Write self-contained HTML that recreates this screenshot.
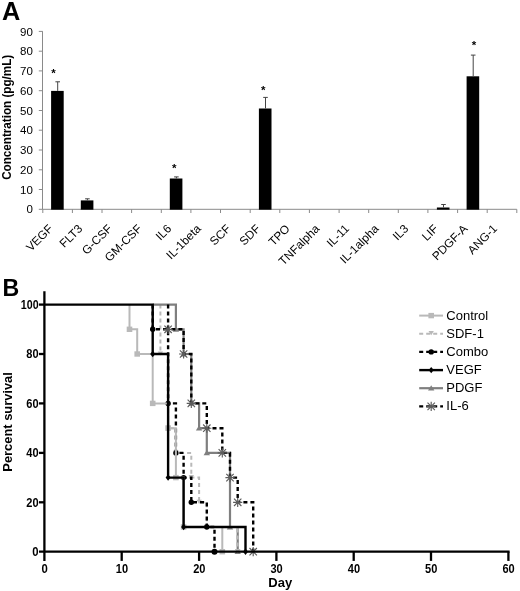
<!DOCTYPE html>
<html lang="en"><head><meta charset="utf-8"><title>Figure</title>
<style>html,body{margin:0;padding:0;background:#fff;}svg{display:block;will-change:transform;transform:translateZ(0);}text{font-family:"Liberation Sans", Arial, Helvetica, sans-serif;fill:#000;}</style></head><body>
<svg width="520" height="591" viewBox="0 0 520 591">
<rect width="520" height="591" fill="#fff"/>
<g id="panelA">
<text x="2.0" y="20.4" font-size="25.3" font-weight="bold">A</text>
<g stroke="#8a8a8a" stroke-width="1" fill="none">
<line x1="42.5" y1="31.4" x2="42.5" y2="209.3"/>
<line x1="38.8" y1="209.3" x2="42.8" y2="209.3"/>
<line x1="38.8" y1="189.5" x2="42.8" y2="189.5"/>
<line x1="38.8" y1="169.8" x2="42.8" y2="169.8"/>
<line x1="38.8" y1="150.0" x2="42.8" y2="150.0"/>
<line x1="38.8" y1="130.2" x2="42.8" y2="130.2"/>
<line x1="38.8" y1="110.5" x2="42.8" y2="110.5"/>
<line x1="38.8" y1="90.7" x2="42.8" y2="90.7"/>
<line x1="38.8" y1="70.9" x2="42.8" y2="70.9"/>
<line x1="38.8" y1="51.2" x2="42.8" y2="51.2"/>
<line x1="38.8" y1="31.4" x2="42.8" y2="31.4"/>
<line x1="42.8" y1="209.3" x2="516.8" y2="209.3"/>
<line x1="42.8" y1="209.3" x2="42.8" y2="213.0"/>
<line x1="72.4" y1="209.3" x2="72.4" y2="213.0"/>
<line x1="102.0" y1="209.3" x2="102.0" y2="213.0"/>
<line x1="131.6" y1="209.3" x2="131.6" y2="213.0"/>
<line x1="161.3" y1="209.3" x2="161.3" y2="213.0"/>
<line x1="190.9" y1="209.3" x2="190.9" y2="213.0"/>
<line x1="220.5" y1="209.3" x2="220.5" y2="213.0"/>
<line x1="250.2" y1="209.3" x2="250.2" y2="213.0"/>
<line x1="279.8" y1="209.3" x2="279.8" y2="213.0"/>
<line x1="309.4" y1="209.3" x2="309.4" y2="213.0"/>
<line x1="339.1" y1="209.3" x2="339.1" y2="213.0"/>
<line x1="368.7" y1="209.3" x2="368.7" y2="213.0"/>
<line x1="398.3" y1="209.3" x2="398.3" y2="213.0"/>
<line x1="427.9" y1="209.3" x2="427.9" y2="213.0"/>
<line x1="457.6" y1="209.3" x2="457.6" y2="213.0"/>
<line x1="487.2" y1="209.3" x2="487.2" y2="213.0"/>
<line x1="516.8" y1="209.3" x2="516.8" y2="213.0"/>
</g>
<text x="32.9" y="213.4" font-size="11.5" text-anchor="end">0</text>
<text x="32.9" y="193.6" font-size="11.5" text-anchor="end">10</text>
<text x="32.9" y="173.9" font-size="11.5" text-anchor="end">20</text>
<text x="32.9" y="154.1" font-size="11.5" text-anchor="end">30</text>
<text x="32.9" y="134.3" font-size="11.5" text-anchor="end">40</text>
<text x="32.9" y="114.6" font-size="11.5" text-anchor="end">50</text>
<text x="32.9" y="94.8" font-size="11.5" text-anchor="end">60</text>
<text x="32.9" y="75.0" font-size="11.5" text-anchor="end">70</text>
<text x="32.9" y="55.3" font-size="11.5" text-anchor="end">80</text>
<text x="32.9" y="35.5" font-size="11.5" text-anchor="end">90</text>
<text transform="translate(11.4,117.3) rotate(-90)" font-size="12" font-weight="bold" text-anchor="middle" textLength="125" lengthAdjust="spacingAndGlyphs">Concentration (pg/mL)</text>
<rect x="51.1" y="90.9" width="12.6" height="118.8" fill="#000"/>
<g stroke="#444" stroke-width="1" fill="none"><line x1="57.7" y1="90.9" x2="57.7" y2="81.8"/><line x1="55.4" y1="81.8" x2="60.0" y2="81.8"/></g>
<rect x="80.8" y="200.4" width="12.6" height="9.3" fill="#000"/>
<g stroke="#444" stroke-width="1" fill="none"><line x1="87.4" y1="200.4" x2="87.4" y2="198.8"/><line x1="85.1" y1="198.8" x2="89.7" y2="198.8"/></g>
<rect x="169.8" y="178.5" width="12.6" height="31.2" fill="#000"/>
<g stroke="#444" stroke-width="1" fill="none"><line x1="176.4" y1="178.5" x2="176.4" y2="176.9"/><line x1="174.1" y1="176.9" x2="178.7" y2="176.9"/></g>
<rect x="258.9" y="108.5" width="12.6" height="101.2" fill="#000"/>
<g stroke="#444" stroke-width="1" fill="none"><line x1="265.5" y1="108.5" x2="265.5" y2="97.4"/><line x1="263.2" y1="97.4" x2="267.8" y2="97.4"/></g>
<rect x="436.9" y="207.5" width="12.6" height="2.2" fill="#000"/>
<g stroke="#444" stroke-width="1" fill="none"><line x1="443.5" y1="207.5" x2="443.5" y2="204.5"/><line x1="441.2" y1="204.5" x2="445.8" y2="204.5"/></g>
<rect x="466.6" y="76.3" width="12.6" height="133.4" fill="#000"/>
<g stroke="#444" stroke-width="1" fill="none"><line x1="473.2" y1="76.3" x2="473.2" y2="55.1"/><line x1="470.9" y1="55.1" x2="475.5" y2="55.1"/></g>
<text x="53.4" y="77.0" font-size="11.5" font-weight="bold" text-anchor="middle">*</text>
<text x="174.3" y="172.0" font-size="11.5" font-weight="bold" text-anchor="middle">*</text>
<text x="263.2" y="94.4" font-size="11.5" font-weight="bold" text-anchor="middle">*</text>
<text x="473.9" y="48.8" font-size="11.5" font-weight="bold" text-anchor="middle">*</text>
<text transform="translate(53.6,229.4) rotate(-45)" font-size="11.8" text-anchor="end">VEGF</text>
<text transform="translate(83.2,229.4) rotate(-45)" font-size="11.8" text-anchor="end">FLT3</text>
<text transform="translate(112.8,229.4) rotate(-45)" font-size="11.8" text-anchor="end">G-CSF</text>
<text transform="translate(142.5,229.4) rotate(-45)" font-size="11.8" text-anchor="end">GM-CSF</text>
<text transform="translate(172.1,229.4) rotate(-45)" font-size="11.8" text-anchor="end">IL6</text>
<text transform="translate(201.7,229.4) rotate(-45)" font-size="11.8" text-anchor="end">IL-1beta</text>
<text transform="translate(231.3,229.4) rotate(-45)" font-size="11.8" text-anchor="end">SCF</text>
<text transform="translate(261.0,229.4) rotate(-45)" font-size="11.8" text-anchor="end">SDF</text>
<text transform="translate(290.6,229.4) rotate(-45)" font-size="11.8" text-anchor="end">TPO</text>
<text transform="translate(320.2,229.4) rotate(-45)" font-size="11.8" text-anchor="end">TNFalpha</text>
<text transform="translate(349.9,229.4) rotate(-45)" font-size="11.8" text-anchor="end">IL-11</text>
<text transform="translate(379.5,229.4) rotate(-45)" font-size="11.8" text-anchor="end">IL-1alpha</text>
<text transform="translate(409.1,229.4) rotate(-45)" font-size="11.8" text-anchor="end">IL3</text>
<text transform="translate(438.8,229.4) rotate(-45)" font-size="11.8" text-anchor="end">LIF</text>
<text transform="translate(468.4,229.4) rotate(-45)" font-size="11.8" text-anchor="end">PDGF-A</text>
<text transform="translate(498.0,229.4) rotate(-45)" font-size="11.8" text-anchor="end">ANG-1</text>
</g>
<g id="panelB">
<text x="2.6" y="295.9" font-size="23.2" font-weight="bold">B</text>
<path d="M160.4 304.6V354.0H168.1V428.2H175.9V452.9H191.3V477.6H199.1V502.3H206.8V527.0H237.7V551.7" fill="none" stroke="#b9b9b9" stroke-width="2.0" stroke-dasharray="4 3"/>
<path d="M157.7 351.4h5.4l-2.7 4.2z" fill="#b9b9b9"/>
<path d="M165.4 425.6h5.4l-2.7 4.2z" fill="#b9b9b9"/>
<path d="M173.2 450.3h5.4l-2.7 4.2z" fill="#b9b9b9"/>
<path d="M188.6 475.0h5.4l-2.7 4.2z" fill="#b9b9b9"/>
<path d="M196.4 499.7h5.4l-2.7 4.2z" fill="#b9b9b9"/>
<path d="M204.1 524.4h5.4l-2.7 4.2z" fill="#b9b9b9"/>
<path d="M235.0 549.1h5.4l-2.7 4.2z" fill="#b9b9b9"/>
<path d="M152.7 304.6V329.3H168.1V403.4H175.9V452.9H183.6V477.6H191.3V502.3H206.8V527.0H214.5V551.7" fill="none" stroke="#000" stroke-width="2.4" stroke-dasharray="4 3"/>
<circle cx="152.7" cy="329.3" r="2.7" fill="#000"/>
<circle cx="168.1" cy="403.4" r="2.7" fill="#000"/>
<circle cx="175.9" cy="452.9" r="2.7" fill="#000"/>
<circle cx="183.6" cy="477.6" r="2.7" fill="#000"/>
<circle cx="191.3" cy="502.3" r="2.7" fill="#000"/>
<circle cx="206.8" cy="527.0" r="2.7" fill="#000"/>
<circle cx="214.5" cy="551.7" r="3.0" fill="#000"/>
<path d="M129.5 304.6V329.3H137.2V354.0H152.7V403.4H168.1V428.2H175.9V477.6H183.6V527.0H222.3V551.7" fill="none" stroke="#b9b9b9" stroke-width="2.0"/>
<rect x="126.7" y="326.6" width="5.6" height="5.4" fill="#b9b9b9"/>
<rect x="134.4" y="351.3" width="5.6" height="5.4" fill="#b9b9b9"/>
<rect x="149.9" y="400.7" width="5.6" height="5.4" fill="#b9b9b9"/>
<rect x="165.3" y="425.5" width="5.6" height="5.4" fill="#b9b9b9"/>
<rect x="173.1" y="474.9" width="5.6" height="5.4" fill="#b9b9b9"/>
<rect x="180.8" y="524.3" width="5.6" height="5.4" fill="#b9b9b9"/>
<rect x="219.5" y="549.0" width="5.6" height="5.4" fill="#b9b9b9"/>
<path d="M152.7 304.6H175.9V329.3H183.6V354.0H191.3V403.4H199.1V428.2H206.8V452.9H230.0V527.0H237.7V551.7" fill="none" stroke="#7f7f7f" stroke-width="2.2"/>
<path d="M175.9 326.3l3.2 5.4h-6.4z" fill="#7f7f7f"/>
<path d="M183.6 351.0l3.2 5.4h-6.4z" fill="#7f7f7f"/>
<path d="M191.3 400.4l3.2 5.4h-6.4z" fill="#7f7f7f"/>
<path d="M199.1 425.2l3.2 5.4h-6.4z" fill="#7f7f7f"/>
<path d="M206.8 449.9l3.2 5.4h-6.4z" fill="#7f7f7f"/>
<path d="M230.0 524.0l3.2 5.4h-6.4z" fill="#7f7f7f"/>
<path d="M237.7 548.7l3.2 5.4h-6.4z" fill="#7f7f7f"/>
<path d="M168.1 304.6V329.3H183.6V354.0H191.3V403.4H206.8V428.2H222.3V452.9H230.0V477.6H237.7V502.3H253.2V551.7" fill="none" stroke="#000" stroke-width="2.4" stroke-dasharray="4 3"/>
<path d="M164.4 325.6l7.4 7.4M164.4 333.0l7.4 -7.4M163.5 329.3h9.2M168.1 324.7v9.2" stroke="#5c5c5c" stroke-width="1.15" fill="none"/>
<path d="M179.9 350.3l7.4 7.4M179.9 357.7l7.4 -7.4M179.0 354.0h9.2M183.6 349.4v9.2" stroke="#5c5c5c" stroke-width="1.15" fill="none"/>
<path d="M187.6 399.7l7.4 7.4M187.6 407.1l7.4 -7.4M186.7 403.4h9.2M191.3 398.8v9.2" stroke="#5c5c5c" stroke-width="1.15" fill="none"/>
<path d="M203.1 424.5l7.4 7.4M203.1 431.9l7.4 -7.4M202.2 428.2h9.2M206.8 423.6v9.2" stroke="#5c5c5c" stroke-width="1.15" fill="none"/>
<path d="M218.6 449.2l7.4 7.4M218.6 456.6l7.4 -7.4M217.7 452.9h9.2M222.3 448.3v9.2" stroke="#5c5c5c" stroke-width="1.15" fill="none"/>
<path d="M226.3 473.9l7.4 7.4M226.3 481.3l7.4 -7.4M225.4 477.6h9.2M230.0 473.0v9.2" stroke="#5c5c5c" stroke-width="1.15" fill="none"/>
<path d="M234.0 498.6l7.4 7.4M234.0 506.0l7.4 -7.4M233.1 502.3h9.2M237.7 497.7v9.2" stroke="#5c5c5c" stroke-width="1.15" fill="none"/>
<path d="M249.5 548.0l7.4 7.4M249.5 555.4l7.4 -7.4M248.6 551.7h9.2M253.2 547.1v9.2" stroke="#5c5c5c" stroke-width="1.15" fill="none"/>
<path d="M44.4 304.6H152.7V354.0H168.1V477.6H183.6V527.0H245.5V551.7" fill="none" stroke="#000" stroke-width="2.4"/>
<path d="M152.7 350.8l2.5 3.2l-2.5 3.2l-2.5 -3.2z" fill="#000"/>
<path d="M168.1 474.4l2.5 3.2l-2.5 3.2l-2.5 -3.2z" fill="#000"/>
<path d="M183.6 523.8l2.5 3.2l-2.5 3.2l-2.5 -3.2z" fill="#000"/>
<path d="M245.5 548.5l2.5 3.2l-2.5 3.2l-2.5 -3.2z" fill="#000"/>
<path d="M237.7 528.5V551.7" fill="none" stroke="#b9b9b9" stroke-width="2.0" stroke-dasharray="4 3"/>
<path d="M235.0 549.1h5.4l-2.7 4.2z" fill="#b9b9b9"/>
<g stroke="#000" stroke-width="2.3" fill="none">
<line x1="44.4" y1="291.2" x2="44.4" y2="560.9"/>
<line x1="39.0" y1="551.7" x2="509.6" y2="551.7"/>
<line x1="39.0" y1="502.3" x2="44.4" y2="502.3"/>
<line x1="39.0" y1="452.9" x2="44.4" y2="452.9"/>
<line x1="39.0" y1="403.4" x2="44.4" y2="403.4"/>
<line x1="39.0" y1="354.0" x2="44.4" y2="354.0"/>
<line x1="39.0" y1="304.6" x2="44.4" y2="304.6"/>
<line x1="121.7" y1="551.7" x2="121.7" y2="560.9"/>
<line x1="199.1" y1="551.7" x2="199.1" y2="560.9"/>
<line x1="276.4" y1="551.7" x2="276.4" y2="560.9"/>
<line x1="353.7" y1="551.7" x2="353.7" y2="560.9"/>
<line x1="431.0" y1="551.7" x2="431.0" y2="560.9"/>
<line x1="508.4" y1="551.7" x2="508.4" y2="560.9"/>
</g>
<text x="38.6" y="556.1" font-size="12.3" font-weight="bold" text-anchor="end" textLength="6.3" lengthAdjust="spacingAndGlyphs">0</text>
<text x="38.6" y="506.7" font-size="12.3" font-weight="bold" text-anchor="end" textLength="12.3" lengthAdjust="spacingAndGlyphs">20</text>
<text x="38.6" y="457.3" font-size="12.3" font-weight="bold" text-anchor="end" textLength="12.3" lengthAdjust="spacingAndGlyphs">40</text>
<text x="38.6" y="407.8" font-size="12.3" font-weight="bold" text-anchor="end" textLength="12.3" lengthAdjust="spacingAndGlyphs">60</text>
<text x="38.6" y="358.4" font-size="12.3" font-weight="bold" text-anchor="end" textLength="12.3" lengthAdjust="spacingAndGlyphs">80</text>
<text x="38.6" y="309.0" font-size="12.3" font-weight="bold" text-anchor="end" textLength="17.8" lengthAdjust="spacingAndGlyphs">100</text>
<text x="44.6" y="573.4" font-size="12.3" font-weight="bold" text-anchor="middle" textLength="6.3" lengthAdjust="spacingAndGlyphs">0</text>
<text x="121.9" y="573.4" font-size="12.3" font-weight="bold" text-anchor="middle" textLength="12.3" lengthAdjust="spacingAndGlyphs">10</text>
<text x="199.3" y="573.4" font-size="12.3" font-weight="bold" text-anchor="middle" textLength="12.3" lengthAdjust="spacingAndGlyphs">20</text>
<text x="276.6" y="573.4" font-size="12.3" font-weight="bold" text-anchor="middle" textLength="12.3" lengthAdjust="spacingAndGlyphs">30</text>
<text x="353.9" y="573.4" font-size="12.3" font-weight="bold" text-anchor="middle" textLength="12.3" lengthAdjust="spacingAndGlyphs">40</text>
<text x="431.2" y="573.4" font-size="12.3" font-weight="bold" text-anchor="middle" textLength="12.3" lengthAdjust="spacingAndGlyphs">50</text>
<text x="508.6" y="573.4" font-size="12.3" font-weight="bold" text-anchor="middle" textLength="12.3" lengthAdjust="spacingAndGlyphs">60</text>
<text x="280.2" y="586.9" font-size="13" font-weight="bold" text-anchor="middle">Day</text>
<text transform="translate(11.6,421.9) rotate(-90)" font-size="13.6" font-weight="bold" text-anchor="middle" textLength="99.5" lengthAdjust="spacingAndGlyphs">Percent survival</text>
<line x1="419.2" y1="315.6" x2="443" y2="315.6" stroke="#b9b9b9" stroke-width="2.0"/>
<rect x="428.4" y="312.9" width="5.6" height="5.4" fill="#b9b9b9"/>
<text x="446.3" y="319.5" font-size="13">Control</text>
<line x1="419.2" y1="333.8" x2="443" y2="333.8" stroke="#b9b9b9" stroke-width="2.0" stroke-dasharray="4 3"/>
<path d="M428.5 331.1h5.4l-2.7 4.2z" fill="#b9b9b9"/>
<text x="446.3" y="337.6" font-size="13">SDF-1</text>
<line x1="419.2" y1="351.9" x2="443" y2="351.9" stroke="#000" stroke-width="2.4" stroke-dasharray="4 3"/>
<circle cx="431.2" cy="351.9" r="2.7" fill="#000"/>
<text x="446.3" y="355.8" font-size="13">Combo</text>
<line x1="419.2" y1="370.1" x2="443" y2="370.1" stroke="#000" stroke-width="2.4"/>
<path d="M431.2 366.9l2.5 3.2l-2.5 3.2l-2.5 -3.2z" fill="#000"/>
<text x="446.3" y="373.9" font-size="13">VEGF</text>
<line x1="419.2" y1="388.2" x2="443" y2="388.2" stroke="#7f7f7f" stroke-width="2.2"/>
<path d="M431.2 385.2l3.2 5.4h-6.4z" fill="#7f7f7f"/>
<text x="446.3" y="392.1" font-size="13">PDGF</text>
<line x1="419.2" y1="406.4" x2="443" y2="406.4" stroke="#000" stroke-width="2.4" stroke-dasharray="4 3"/>
<path d="M427.5 402.7l7.4 7.4M427.5 410.1l7.4 -7.4M426.6 406.4h9.2M431.2 401.8v9.2" stroke="#5c5c5c" stroke-width="1.15" fill="none"/>
<text x="446.3" y="410.2" font-size="13">IL-6</text>
</g>
</svg></body></html>
